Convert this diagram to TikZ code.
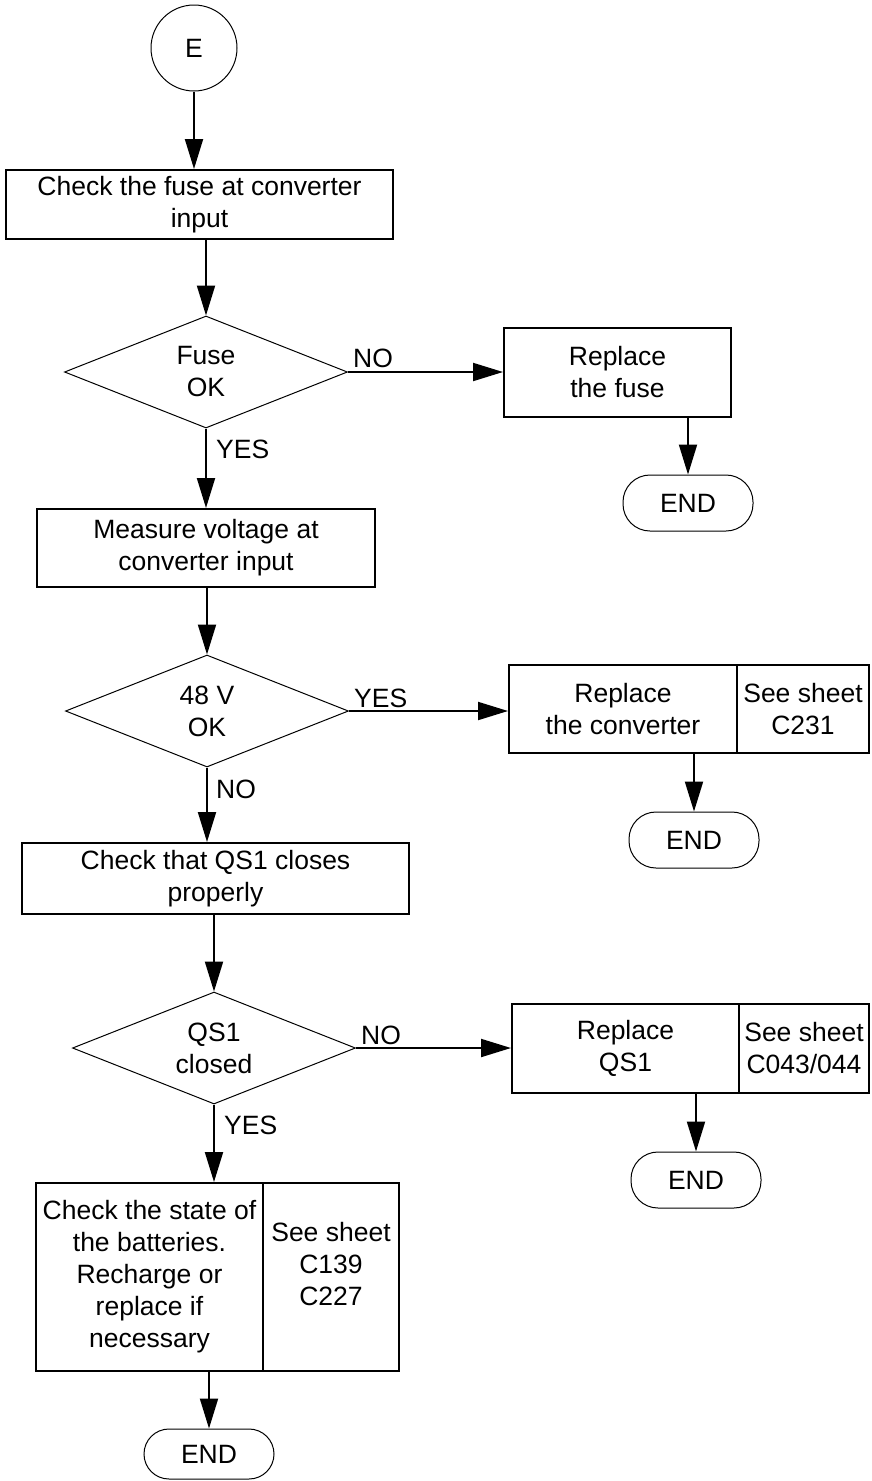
\documentclass[tikz,border=0pt]{standalone}
\usepackage{fontspec}
\setmainfont{Liberation Sans}
\usetikzlibrary{arrows.meta,shapes.geometric}
\begin{document}
\begin{tikzpicture}[x=1pt,y=-1pt,
  font=\fontsize{26.5}{32}\selectfont,
  box/.style={draw,line width=2pt,inner sep=0pt,align=center},
  dec/.style={draw,shape=diamond,aspect=2.5,line width=1pt,inner sep=0pt,minimum width=283pt,minimum height=112pt,align=center},
  term/.style={draw,rounded corners=27pt,line width=1pt,minimum width=130pt,minimum height=56pt,inner sep=0pt},
  arr/.style={line width=2pt,-{Triangle[length=30pt,width=18pt]}},
  lbl/.style={inner sep=0pt,anchor=west},
  txt/.style={inner sep=0pt,align=center},
]
\useasboundingbox (0,0) rectangle (871,1481);
% nodes
\node[draw,circle,line width=1pt,minimum size=86pt,inner sep=0pt] (E) at (194,48) {E};
\node[box,minimum width=387pt,minimum height=69pt] (b1) at (199.5,204.5) {Check the fuse at converter\\input};
\node[dec] (d1) at (206,372) {Fuse\\OK};
\node[box,minimum width=227pt,minimum height=89pt] (fix) at (617.5,372.5) {Replace\\the fuse};
\node[term] (e1) at (688,503) {END};
\node[box,minimum width=338pt,minimum height=78pt] (b2) at (206,548) {Measure voltage at\\converter input};
\node[dec] (d2) at (207,711) {48 V\\OK};
\node[box,minimum width=228pt,minimum height=88pt] (conv) at (623,709) {Replace\\the converter};
\node[box,minimum width=132pt,minimum height=88pt] (s1) at (803,709) {See sheet\\C231};
\node[term] (e2) at (694,840) {END};
\node[box,minimum width=387pt,minimum height=71pt] (b3) at (215.5,878.5) {Check that QS1 closes\\properly};
\node[dec] (d3) at (214,1048) {QS1\\closed};
\node[box,minimum width=227pt,minimum height=89pt] (qs) at (625.5,1048.5) {Replace\\QS1};
\node[box,minimum width=130pt,minimum height=89pt] (s2) at (804,1048.5) {See sheet\\C043/044};
\node[term] (e3) at (696,1180) {END};
\node[box,minimum width=227pt,minimum height=188pt] (b4) at (149.5,1277) {Check the state of\\the batteries.\\Recharge or\\replace if\\necessary};
\node[box,minimum width=136pt,minimum height=188pt] (s3) at (331,1277) {};
\node[txt] (s3t) at ([yshift=13pt]s3.center) {See sheet\\C139\\C227};
\node[term,minimum height=50pt,rounded corners=25pt] (e4) at (209,1454) {END};
% connectors
\draw[arr] (E.south) -- (E.south |- b1.north);
\draw[arr] (b1.south -| d1.north) -- (d1.north);
\draw[arr] (d1.east) -- (d1.east -| fix.west);
\draw[arr] (fix.south -| e1.north) -- (e1.north);
\draw[arr] (d1.south) -- (d1.south |- b2.north);
\draw[arr] (b2.south -| d2.north) -- (d2.north);
\draw[arr] (d2.east) -- (d2.east -| conv.west);
\draw[arr] (conv.south -| e2.north) -- (e2.north);
\draw[arr] (d2.south) -- (d2.south |- b3.north);
\draw[arr] (b3.south -| d3.north) -- (d3.north);
\draw[arr] (d3.east) -- (d3.east -| qs.west);
\draw[arr] (qs.south -| e3.north) -- (e3.north);
\draw[arr] (d3.south) -- (d3.south |- b4.north);
\draw[arr] (b4.south -| e4.north) -- (e4.north);
% labels
\node[lbl] (n1) at ([shift={(5pt,14pt)}]d1.east) {NO};
\node[lbl] (y1) at ([shift={(10pt,-21pt)}]d1.south) {YES};
\node[lbl] (y2) at ([shift={(5pt,13pt)}]d2.east) {YES};
\node[lbl] (n2) at ([shift={(9pt,-22pt)}]d2.south) {NO};
\node[lbl] (n3) at ([shift={(5pt,13pt)}]d3.east) {NO};
\node[lbl] (y3) at ([shift={(10pt,-21pt)}]d3.south) {YES};
\end{tikzpicture}
\end{document}
